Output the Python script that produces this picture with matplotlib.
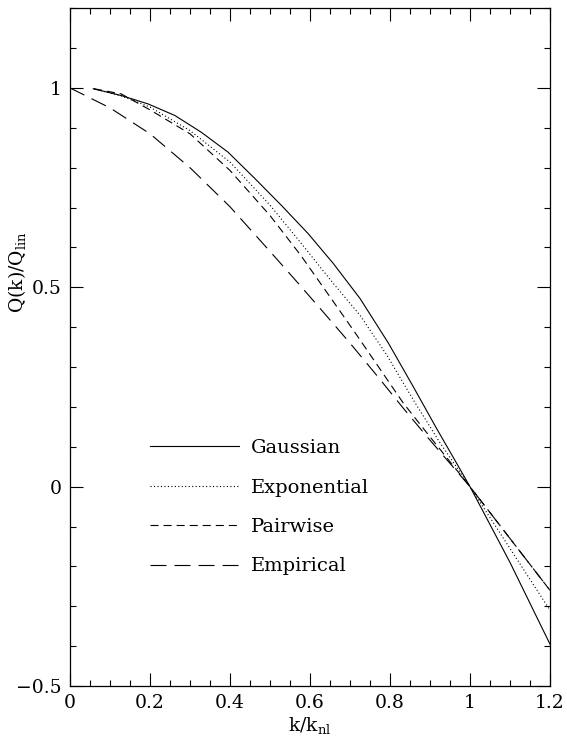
import numpy as np
import matplotlib
matplotlib.use('Agg')
import matplotlib.pyplot as plt
from matplotlib.ticker import MultipleLocator

# curves
k_gauss = [0.058, 0.128, 0.195, 0.262, 0.328, 0.395, 0.462, 0.528, 0.595, 0.658, 0.725,
           0.796, 0.858, 0.917, 0.967, 1.0, 1.1, 1.2]
q_gauss = [0.998, 0.981, 0.960, 0.931, 0.889, 0.839, 0.773, 0.706, 0.635, 0.56, 0.472,
           0.36, 0.251, 0.145, 0.058, 0.0, -0.19, -0.395]

k_expo = [0.06, 0.128, 0.2, 0.3, 0.4, 0.5, 0.575, 0.658, 0.725, 0.792, 0.858, 0.925, 1.0, 1.1, 1.2]
q_expo = [0.998, 0.980, 0.952, 0.893, 0.814, 0.706, 0.614, 0.51, 0.43, 0.33, 0.218, 0.11, 0.0, -0.155, -0.31]

k_pair = [0.06, 0.128, 0.2, 0.3, 0.4, 0.5, 0.577, 0.65, 0.708, 0.775, 0.833, 0.9, 1.0, 1.1, 1.2]
q_pair = [0.998, 0.985, 0.945, 0.885, 0.793, 0.68, 0.58, 0.476, 0.393, 0.295, 0.21, 0.125, 0.0, -0.13, -0.26]

k_emp = [0.0, 0.1, 0.2, 0.3, 0.4, 0.5, 0.575, 0.633, 0.7, 0.767, 0.833, 0.892, 1.0, 1.1, 1.2]
q_emp = [1.0, 0.95, 0.885, 0.80, 0.702, 0.59, 0.505, 0.438, 0.36, 0.279, 0.197, 0.126, 0.0, -0.13, -0.26]

labels = ['Gaussian', 'Exponential', 'Pairwise', 'Empirical']

plt.rcParams['font.family'] = ['DejaVu Serif']
plt.rcParams['mathtext.fontset'] = 'dejavuserif'
plt.rcParams['lines.scale_dashes'] = False

fig = plt.figure(figsize=(5.67, 7.46), dpi=100)
ax = fig.add_axes([0.1235, 0.0804, 0.8465, 0.9086])

lw = 0.8
ax.plot(k_gauss, q_gauss, color='black', lw=lw, ls='-', label=labels[0])
ax.plot(k_expo, q_expo, color='black', lw=lw, dashes=(0.8, 1.7), label=labels[1])
ax.plot(k_pair, q_pair, color='black', lw=lw, dashes=(5.8, 3.6), label=labels[2])
ax.plot(k_emp, q_emp, color='black', lw=lw, dashes=(11.5, 5.8), label=labels[3])

ax.set_xlim(0, 1.2)
ax.set_ylim(-0.5, 1.2)
ax.xaxis.set_minor_locator(MultipleLocator(0.05))
ax.yaxis.set_minor_locator(MultipleLocator(0.1))
ax.set_xticks([0, 0.2, 0.4, 0.6, 0.8, 1.0, 1.2])
ax.set_xticklabels(['0', '0.2', '0.4', '0.6', '0.8', '1', '1.2'])
ax.set_yticks([-0.5, 0, 0.5, 1.0])
ax.set_yticklabels(['\u22120.5', '0', '0.5', '1'])
ax.tick_params(which='both', direction='in', top=True, right=True, labelsize=13.5, width=0.8)
ax.tick_params(which='major', length=9.5, pad=6)
ax.tick_params(which='minor', length=4.5)
for s in ax.spines.values():
    s.set_linewidth(0.9)

ax.set_xlabel(r'$\mathrm{k/k_{nl}}$', fontsize=13.5, labelpad=2)
ax.set_ylabel(r'$\mathrm{Q(k)/Q_{lin}}$', fontsize=13.5)
ax.yaxis.set_label_coords(-0.088, 0.61)

leg = ax.legend(loc='upper left', bbox_to_anchor=(0.166, 0.364), frameon=False,
                fontsize=14, handlelength=4.6, handletextpad=0.6, labelspacing=1.1,
                borderaxespad=0, borderpad=0)

fig.savefig('out.png', dpi=100)
